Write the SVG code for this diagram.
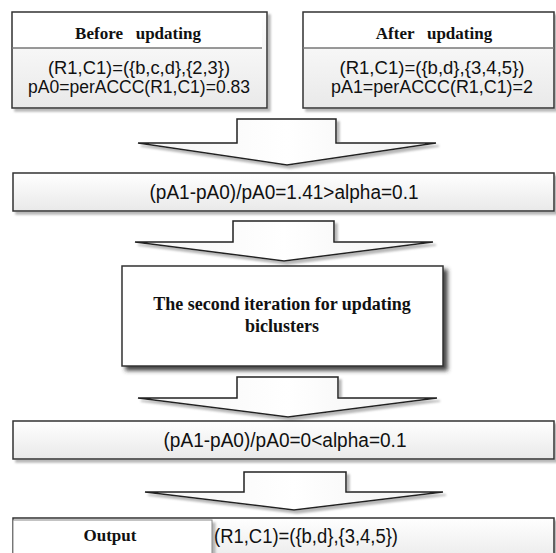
<svg xmlns="http://www.w3.org/2000/svg" width="556" height="553" viewBox="0 0 556 553">
<defs>
<linearGradient id="gBox" x1="0" y1="0" x2="0" y2="1"><stop offset="0" stop-color="#ffffff"/><stop offset="1" stop-color="#e9e9e9"/></linearGradient>
<linearGradient id="gArrow" x1="0" y1="0" x2="1" y2="0"><stop offset="0" stop-color="#f4f4f4"/><stop offset="0.5" stop-color="#ffffff"/><stop offset="1" stop-color="#efefef"/></linearGradient>
<filter id="shLight" x="-10%" y="-20%" width="130%" height="160%"><feDropShadow dx="3" dy="3" stdDeviation="1" flood-color="#999" flood-opacity="0.7"/></filter>
<filter id="shDark" x="-10%" y="-10%" width="130%" height="130%"><feDropShadow dx="4" dy="4" stdDeviation="2" flood-color="#333" flood-opacity="0.9"/></filter>
<style>
.box{fill:url(#gBox);stroke:#333;stroke-width:1.5;filter:url(#shLight)}
.hdr{fill:#fff;stroke:none}
.sep{stroke:#777;stroke-width:1.5}
.arrow{fill:url(#gArrow);stroke:#222;stroke-width:1.5;stroke-linejoin:miter;filter:url(#shLight)}
.ser{font-family:"Liberation Serif","Times New Roman",serif;font-weight:bold;fill:#111;text-anchor:middle}
.sans{font-family:"Liberation Sans",Arial,sans-serif;fill:#111;text-anchor:middle}
</style>
</defs>
<rect width="556" height="553" fill="#fff"/>
<g id="before">
<rect class="box" x="12" y="12" width="255" height="96"/>
<rect class="hdr" x="13" y="13" width="249" height="35"/>
<line class="sep" x1="12" y1="48" x2="262" y2="48"/>
<text class="ser" x="138" y="39" font-size="17" xml:space="preserve">Before   updating</text>
<text class="sans" x="139" y="74" font-size="17.5" textLength="182" lengthAdjust="spacingAndGlyphs">(R1,C1)=({b,c,d},{2,3})</text>
<text class="sans" x="139" y="93" font-size="17.5" textLength="222" lengthAdjust="spacingAndGlyphs">pA0=perACCC(R1,C1)=0.83</text>
</g>
<g id="after">
<rect class="box" x="303" y="12" width="251" height="96"/>
<rect class="hdr" x="304" y="13" width="249" height="35"/>
<line class="sep" x1="303" y1="48" x2="554" y2="48"/>
<text class="ser" x="434" y="39" font-size="17" xml:space="preserve">After   updating</text>
<text class="sans" x="432" y="74" font-size="17.5" textLength="185" lengthAdjust="spacingAndGlyphs">(R1,C1)=({b,d},{3,4,5})</text>
<text class="sans" x="432" y="93" font-size="17.5" textLength="202" lengthAdjust="spacingAndGlyphs">pA1=perACCC(R1,C1)=2</text>
</g>
<g id="connectors">
<polygon class="arrow" points="237,119 336,119 336,143 436,143 287,165 138,143 237,143"/>
<polygon class="arrow" points="233,221 334,221 334,242 433,242 284,261 135,242 233,242"/>
<polygon class="arrow" points="237,377 338,377 338,398 437,398 288,417 138,398 237,398"/>
<polygon class="arrow" points="244,472 346,472 346,492 443,492 294,510 145,492 244,492"/>
</g>
<g id="check1">
<rect class="box" x="13" y="173" width="541" height="38"/>
<text class="sans" x="284" y="199" font-size="20" textLength="269" lengthAdjust="spacingAndGlyphs">(pA1-pA0)/pA0=1.41&gt;alpha=0.1</text>
</g>
<g id="iteration">
<rect x="122" y="266" width="321" height="100" fill="#fff" stroke="#333" stroke-width="1.5" filter="url(#shDark)"/>
<text class="ser" x="282" y="310" font-size="18">The second iteration for updating</text>
<text class="ser" x="282" y="332" font-size="18">biclusters</text>
</g>
<g id="check2">
<rect class="box" x="13" y="421" width="541" height="38"/>
<text class="sans" x="285" y="447" font-size="20" textLength="243" lengthAdjust="spacingAndGlyphs">(pA1-pA0)/pA0=0&lt;alpha=0.1</text>
</g>
<g id="output">
<rect class="box" x="13" y="518" width="541" height="45"/>
<rect x="13" y="520" width="199" height="35" fill="#fff" stroke="#888" stroke-width="1" filter="url(#shLight)"/>
<text class="ser" x="110" y="541" font-size="17">Output</text>
<text class="sans" x="214" y="543" font-size="20" style="text-anchor:start" textLength="184" lengthAdjust="spacingAndGlyphs">(R1,C1)=({b,d},{3,4,5})</text>
</g>
</svg>
